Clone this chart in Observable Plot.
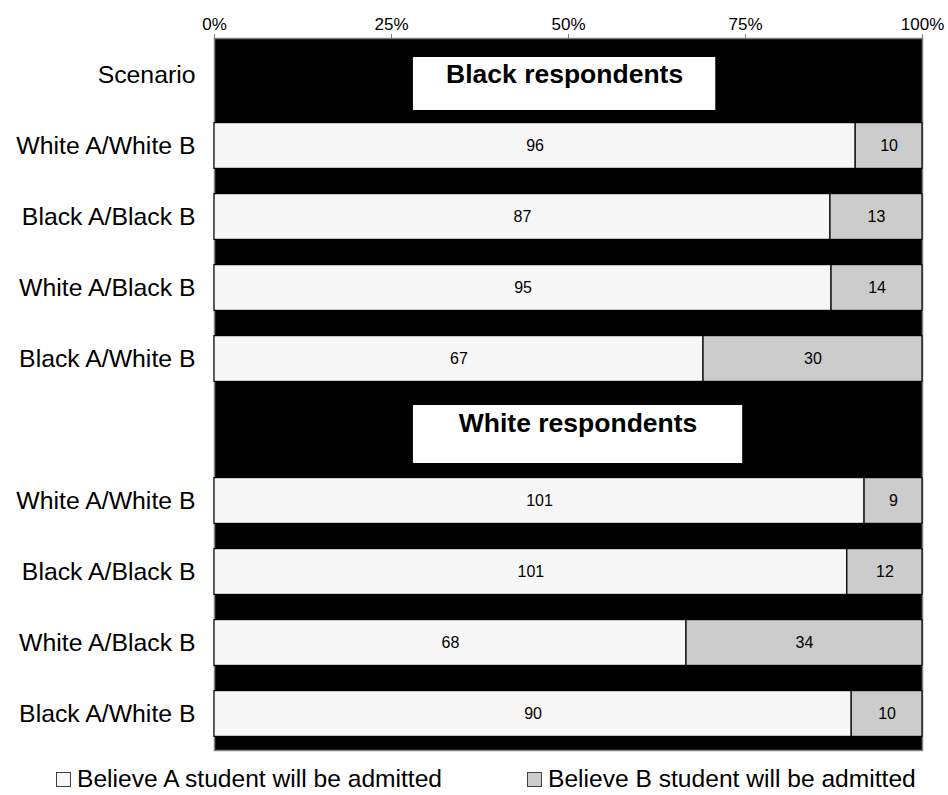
<!DOCTYPE html>
<html><head><meta charset="utf-8">
<script src="https://cdn.jsdelivr.net/npm/d3@7"></script>
<script src="https://cdn.jsdelivr.net/npm/@observablehq/plot@0.6"></script>
<style>
body{margin:0;background:#fff;font-family:"Liberation Sans",Arial,sans-serif;}
#legend{position:relative;width:948px;height:35px;font-size:24.6px;color:#000;}
.item{position:absolute;top:5px;display:flex;align-items:center;white-space:nowrap;line-height:1.15;}
.sw{width:15px;height:15px;border:1px solid #404040;margin-right:6px;box-sizing:border-box;}
</style></head><body>
<div id="chart"></div>
<div id="legend"></div>
<script>
// ---- data ----
const groups = ["Black respondents", "White respondents"];
const headerLabel = "Scenario";
const scenarios = ["White A/White B", "Black A/Black B", "White A/Black B", "Black A/White B"];
const blackBelieveA = [96, 87, 95, 67];
const blackBelieveB = [10, 13, 14, 30];
const whiteBelieveA = [101, 101, 68, 90];
const whiteBelieveB = [9, 12, 34, 10];
const seriesNames = ["Believe A student will be admitted", "Believe B student will be admitted"];
const xTicks = [0, 0.25, 0.5, 0.75, 1];

// ---- build rows ----
const headerKeys = ["H0|" + headerLabel, "H1|"];
const rowKeys = [
  headerKeys[0],
  ...scenarios.map(s => "B|" + s),
  headerKeys[1],
  ...scenarios.map(s => "W|" + s)
];
const segments = [];
scenarios.forEach((s, i) => {
  segments.push({row: "B|" + s, series: seriesNames[0], value: blackBelieveA[i]});
  segments.push({row: "B|" + s, series: seriesNames[1], value: blackBelieveB[i]});
});
scenarios.forEach((s, i) => {
  segments.push({row: "W|" + s, series: seriesNames[0], value: whiteBelieveA[i]});
  segments.push({row: "W|" + s, series: seriesNames[1], value: whiteBelieveB[i]});
});
const colors = ["#f7f7f7", "#cccccc"];
const font = '"Liberation Sans", Arial, sans-serif';

const chart = Plot.plot({
  width: 948,
  height: 760,
  marginLeft: 214,
  marginRight: 26,
  marginTop: 38,
  marginBottom: 10,
  style: {fontFamily: font, color: "#000", background: "#fff"},
  x: {domain: [0, 1]},
  y: {domain: rowKeys, padding: 0},
  color: {domain: seriesNames, range: colors},
  marks: [
    Plot.frame({fill: "#000", stroke: "#808080", strokeWidth: 1.5}),
    Plot.axisX({anchor: "top", ticks: xTicks, tickFormat: d3.format(".0%"), tickSize: 5, tickPadding: 4,
      fontSize: 17, label: null, stroke: "#808080"}),
    Plot.axisY({tickSize: 0, tickPadding: 19, fontSize: 24.8, label: null,
      tickFormat: k => k.split("|")[1]}),
    Plot.barX(segments, Plot.stackX({x: "value", y: "row", fill: "series", offset: "normalize",
      stroke: "#000", strokeWidth: 1.2, insetTop: 12.6, insetBottom: 12.6})),
    Plot.text(segments, Plot.stackX({x: "value", y: "row", offset: "normalize", text: "value",
      fontSize: 16, fill: "#000"})),
    // group header boxes
    Plot.barX([groups[0]], {y: () => headerKeys[0], x1: 0.281, x2: 0.708, fill: "#fff",
      insetTop: 18, insetBottom: 0}),
    Plot.text([groups[0]], {y: () => headerKeys[0], x: (0.281 + 0.708) / 2, text: d => d,
      fontSize: 26.5, fontWeight: "bold", fill: "#000"}),
    Plot.barX([groups[1]], {y: () => headerKeys[1], x1: 0.281, x2: 0.746, fill: "#fff",
      insetTop: 11, insetBottom: 2}),
    Plot.text([groups[1]], {y: () => headerKeys[1], x: (0.281 + 0.746) / 2, text: d => d,
      fontSize: 26.5, fontWeight: "bold", fill: "#000", dy: -6})
  ]
});
document.getElementById("chart").appendChild(chart);

// ---- legend ----
const legend = document.getElementById("legend");
const legendLeft = [56, 527];
seriesNames.forEach((name, i) => {
  const item = document.createElement("div");
  item.className = "item";
  item.style.left = legendLeft[i] + "px";
  const sw = document.createElement("span");
  sw.className = "sw";
  sw.style.background = colors[i];
  const t = document.createElement("span");
  t.textContent = name;
  item.appendChild(sw);
  item.appendChild(t);
  legend.appendChild(item);
});
</script></body></html>
